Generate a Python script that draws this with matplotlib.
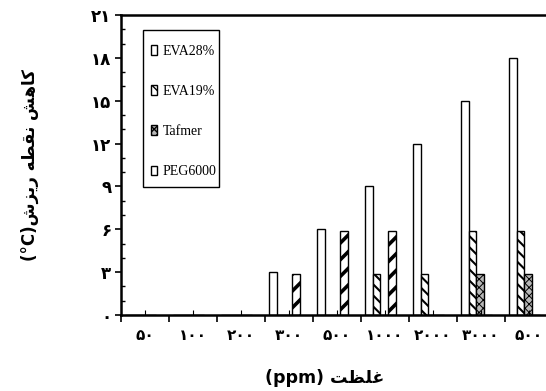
import numpy as np
import matplotlib
matplotlib.use('Agg')
from matplotlib import pyplot as plt
from matplotlib.ticker import MultipleLocator, FixedLocator
from matplotlib.patches import Rectangle

# concentration categories (ppm) as printed
cats = ['۵۰', '۱۰۰', '۲۰۰', '۳۰۰', '۵۰۰', '۱۰۰۰', '۲۰۰۰', '۳۰۰۰', '۵۰۰']
names = ['EVA28%', 'EVA19%', 'Tafmer', 'PEG6000']
eva28 = [0, 0, 0, 3, 6, 9, 12, 15, 18]
eva19 = [0, 0, 0, 0, 0, 2.9, 2.9, 5.85, 5.85]
tafmer = [0, 0, 0, 0, 0, 0, 0, 2.9, 2.9]
peg = [0, 0, 0, 2.85, 5.85, 5.85, 0, 0, 0]
yticks = [0, 3, 6, 9, 12, 15, 18, 21]
fa = '۰۱۲۳۴۵۶۷۸۹'

# persian text in presentation forms, visual order
ylab = '(°C)' + '\uFEB5\uFEB0\uFBFE\uFEAD' + ' ' + '\uFEEA\uFEC4\uFED8\uFEE7' + ' ' + '\uFEB6\uFEEB\uFE8E\uFB90'
xlab = '(ppm) ' + '\uFE96\uFEC8\uFEE0\uFECF'

def fa_num(v):
    return ''.join(fa[int(c)] for c in str(v))

fig = plt.figure(figsize=(5.46, 3.91), dpi=100)
ax = fig.add_axes([121/546, 1-315/391, 432/546, 300/391])

x = np.arange(len(cats))
w = 0.16
hatches = [None, '\\\\\\', 'xxxx', '//']
hlw = [1.0, 1.5, 0.7, 2.6]
fills = ['white', 'white', '#b8b8b8', 'white']
series = [eva28, eva19, tafmer, peg]
for i, (s, nm) in enumerate(zip(series, names)):
    left = x - 0.5 + 0.085 + i * w
    with plt.rc_context({'hatch.linewidth': hlw[i]}):
        ax.bar(left, s, width=w, align='edge', color=fills[i], edgecolor='black',
               linewidth=1.0, hatch=hatches[i], label=nm)

ax.set_xlim(-0.5, 8.5)
ax.set_ylim(0, 21)
ax.spines['right'].set_visible(False)
for sp in ['left', 'bottom', 'top']:
    ax.spines[sp].set_linewidth(1.8)

ax.set_yticks(yticks)
ax.set_yticklabels([fa_num(v) for v in yticks], fontsize=12, fontweight='bold', family='DejaVu Sans')
ax.yaxis.set_minor_locator(MultipleLocator(1))
ax.tick_params(axis='y', which='major', direction='out', length=4, width=1.2, pad=3)
ax.tick_params(axis='y', which='minor', direction='in', length=3, width=1)

ax.xaxis.set_major_locator(FixedLocator(x))
ax.set_xticklabels(cats, fontsize=11, fontweight='bold', family='DejaVu Sans')
ax.tick_params(axis='x', which='major', length=0, pad=9)
ax.xaxis.set_minor_locator(FixedLocator(list(x - 0.5)))
ax.tick_params(axis='x', which='minor', direction='out', length=5, width=1.2)
# small inner ticks at category centres
ax.vlines(x, 0, 0.35, color='black', linewidth=0.8)

fig.text(325/546, 1 - 378/391, xlab, ha='center', va='center', fontsize=12.5,
         fontweight='bold', family='DejaVu Sans')
fig.text(30/546, 1 - 165/391, ylab, ha='center', va='center', rotation=90,
         fontsize=12, fontweight='bold', family='DejaVu Sans')

leg = ax.legend(loc='upper left', bbox_to_anchor=(151/546, 1-45/391),
                bbox_transform=fig.transFigure, frameon=False,
                prop={'family': 'Liberation Serif', 'size': 10},
                handlelength=0.45, handleheight=0.7, handletextpad=0.4,
                labelspacing=1.95, borderpad=0, borderaxespad=0)
fig.patches.append(Rectangle((143/546, 1-187/391), 76/546, 157/391,
                             transform=fig.transFigure, fill=False,
                             edgecolor='black', linewidth=1.0))

fig.savefig('out.png', dpi=100)
